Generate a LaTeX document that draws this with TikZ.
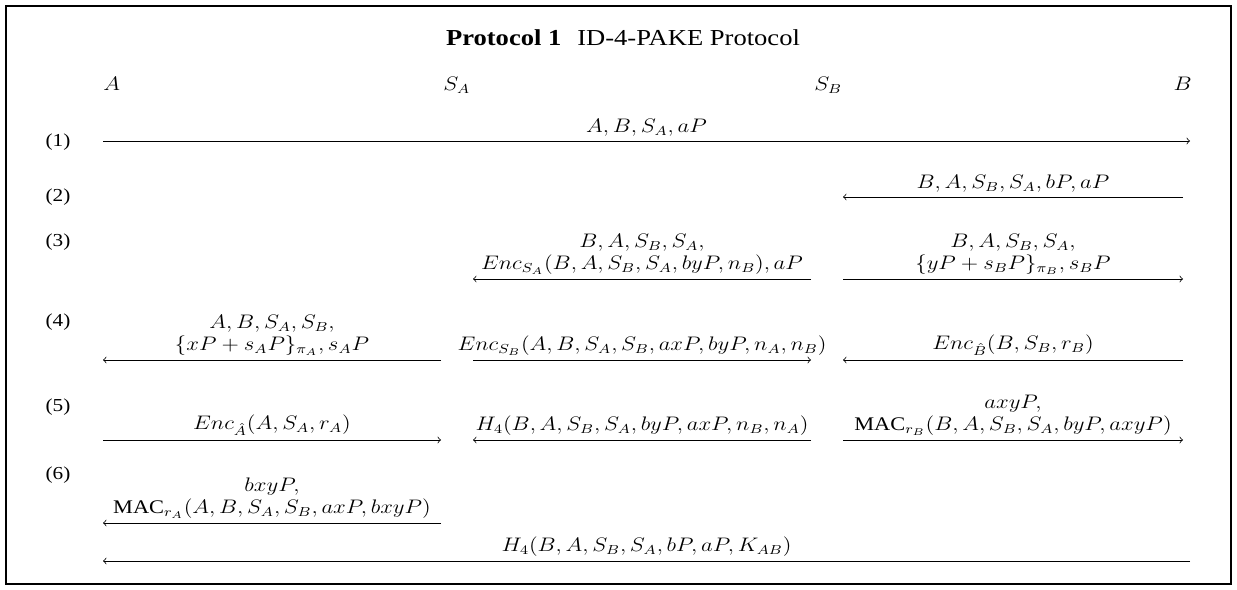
\documentclass[tikz,border=0pt]{standalone}
\usepackage[no-math]{fontspec}
\setmainfont{Liberation Serif}
\usetikzlibrary{arrows}
\begin{document}
\begin{tikzpicture}[x=0.527pt,y=-0.527pt,
  sq/.style={transform shape, yscale=0.86},
  msg/.style={draw, line width=0.4pt, ->, >=to},
  lbl/.style={sq, anchor=south, inner sep=2.6pt, align=center, font=\fontsize{11.8}{13.5}\selectfont},
  party/.style={sq, anchor=base west, inner sep=0pt, font=\fontsize{11.8}{13.5}\selectfont},
  rowno/.style={sq, anchor=base, inner sep=0pt, font=\fontsize{11.2}{13}\selectfont},
  frame/.style={draw, line width=1pt}]
\useasboundingbox (0,0) rectangle (1237,590);
\draw[frame] (6,6) rectangle (1231,584);
\node[sq, anchor=base, inner sep=0pt, font=\fontsize{14}{17}\selectfont] (title) at (623,46)
  {\textbf{Protocol 1}\hskip0.6em ID-4-PAKE Protocol};
% parties
\node[party] (pA) at (103,91) {$A$};
\node[party] (pSA) at (443,91) {$S_A$};
\node[party] (pSB) at (814,91) {$S_B$};
\node[party, anchor=base east] (pB) at (1192,91) {$B$};
% row numbers
\node[rowno] (r1) at (58,147) {(1)};
\node[rowno] (r2) at (58,202) {(2)};
\node[rowno] (r3) at (58,247) {(3)};
\node[rowno] (r4) at (58,327) {(4)};
\node[rowno] (r5) at (58,411) {(5)};
\node[rowno] (r6) at (58,479) {(6)};
% arrow end points
\coordinate (c1a) at (103,141); \coordinate (c1b) at (1190,141);
\coordinate (c2a) at (1183,197); \coordinate (c2b) at (843,197);
\coordinate (c3a) at (811,279); \coordinate (c3b) at (473,279);
\coordinate (c3c) at (843,279); \coordinate (c3d) at (1183,279);
\coordinate (c4a) at (441,360); \coordinate (c4b) at (103,360);
\coordinate (c4c) at (473,360); \coordinate (c4d) at (811,360);
\coordinate (c4e) at (1183,360); \coordinate (c4f) at (843,360);
\coordinate (c5a) at (103,440); \coordinate (c5b) at (441,440);
\coordinate (c5c) at (811,440); \coordinate (c5d) at (473,440);
\coordinate (c5e) at (843,440); \coordinate (c5f) at (1183,440);
\coordinate (c6a) at (441,523); \coordinate (c6b) at (103,523);
\coordinate (c7a) at (1190,561); \coordinate (c7b) at (103,561);
% messages
\draw[msg] (c1a) -- (c1b) node[lbl, midway] (m1) {$A, B, S_A, aP$};
\draw[msg] (c2a) -- (c2b) node[lbl, midway] (m2) {$B, A, S_B, S_A, bP, aP$};
\draw[msg] (c3a) -- (c3b) node[lbl, midway] (m3a) {$B, A, S_B, S_A,$\\ $Enc_{S_A}(B, A, S_B, S_A, byP, n_B), aP$};
\draw[msg] (c3c) -- (c3d) node[lbl, midway] (m3b) {$B, A, S_B, S_A,$\\ $\{yP + s_BP\}_{\pi_B}, s_BP$};
\draw[msg] (c4a) -- (c4b) node[lbl, midway] (m4a) {$A, B, S_A, S_B,$\\ $\{xP + s_AP\}_{\pi_A}, s_AP$};
\draw[msg] (c4c) -- (c4d) node[lbl, midway] (m4b) {$Enc_{S_B}(A, B, S_A, S_B, axP, byP, n_A, n_B)$};
\draw[msg] (c4e) -- (c4f) node[lbl, midway] (m4c) {$Enc_{\hat{B}}(B, S_B, r_B)$};
\draw[msg] (c5a) -- (c5b) node[lbl, midway] (m5a) {$Enc_{\hat{A}}(A, S_A, r_A)$};
\draw[msg] (c5c) -- (c5d) node[lbl, midway] (m5b) {$H_4(B, A, S_B, S_A, byP, axP, n_B, n_A)$};
\draw[msg] (c5e) -- (c5f) node[lbl, midway] (m5c) {$axyP,$\\ $\mbox{MAC}_{r_B}(B, A, S_B, S_A, byP, axyP)$};
\draw[msg] (c6a) -- (c6b) node[lbl, midway] (m6) {$bxyP,$\\ $\mbox{MAC}_{r_A}(A, B, S_A, S_B, axP, bxyP)$};
\draw[msg] (c7a) -- (c7b) node[lbl, midway] (m7) {$H_4(B, A, S_B, S_A, bP, aP, K_{AB})$};
\end{tikzpicture}
\end{document}
